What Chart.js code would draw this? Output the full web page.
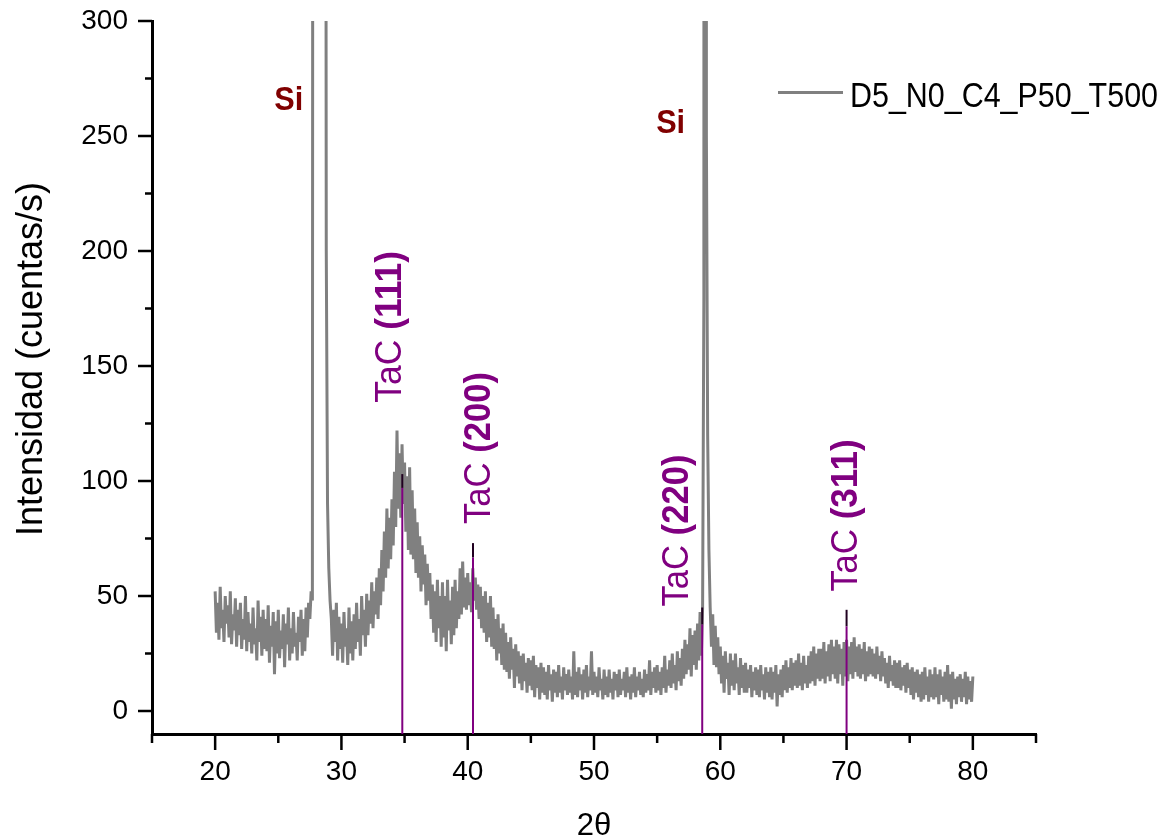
<!DOCTYPE html>
<html><head><meta charset="utf-8">
<script src="https://cdn.jsdelivr.net/npm/chart.js@4.4.1/dist/chart.umd.min.js"></script>
<style>html,body{margin:0;padding:0;background:#fff;}#c{display:block;}</style>
</head><body>
<canvas id="c" width="1173" height="840"></canvas>
<script>
// ---------- DATA ----------
const seriesLabel = 'D5_N0_C4_P50_T500';
const angleStart = 20.0;   // first 2θ sample
const angleStep = 0.1;     // 2θ sampling step
const counts = [
 52,34,47,31,54,36,44,30,50,38,
 46,32,52,29,42,35,49,28,44,33,
 47,27,40,31,50,26,43,30,38,25,
 45,29,36,22,48,30,41,24,44,27,
 40,26,46,21,37,28,43,16,39,25,
 44,23,35,27,42,19,38,29,45,22,
 36,25,43,28,34,22,41,30,44,24,
 40,26,45,32,47,40,52,48,1200,2500,
 4000,5200,5800,6000,5600,4200,2400,800,200,90,
 62,48,40,24,44,30,47,22,41,27,
 38,21,43,28,36,20,45,25,39,22,
 42,27,47,30,40,24,50,33,44,28,
 51,33,48,38,56,36,52,42,58,40,
 62,46,70,52,78,58,88,62,84,66,
 92,72,104,80,122,88,112,84,116,90,
 108,78,102,70,106,68,96,66,88,60,
 82,58,76,52,72,55,68,46,64,48,
 60,40,55,34,52,30,57,36,50,28,
 56,32,50,26,57,35,48,29,54,33,
 57,36,52,40,62,42,65,45,58,44,
 60,46,56,43,62,48,58,44,55,40,
 54,36,50,34,52,30,47,32,50,28,
 45,27,40,22,42,25,36,20,38,18,
 34,17,30,14,32,18,27,10,29,15,
 26,12,24,9,25,13,21,8,23,11,
 22,9,24,6,20,10,19,5,21,8,
 19,7,17,5,20,9,16,4,18,8,
 17,6,20,8,15,5,19,9,16,7,
 18,8,15,5,26,7,17,6,19,9,
 16,5,18,8,20,6,15,9,26,7,
 17,8,15,6,19,9,14,5,18,7,
 15,6,18,8,14,5,17,9,16,6,
 18,7,14,9,17,6,19,8,15,5,
 16,8,19,6,15,9,17,7,14,6,
 18,8,16,9,22,7,17,10,19,8,
 20,9,17,7,19,10,24,8,18,11,
 22,10,25,12,20,9,26,13,23,11,
 27,14,31,16,29,18,36,15,33,20,
 35,18,38,22,43,24,45,180,3600,250,
 120,70,45,28,42,20,37,19,32,16,
 28,12,24,8,26,14,21,7,25,11,
 22,9,25,12,19,7,23,10,20,8,
 21,8,18,10,20,6,17,9,19,7,
 18,6,20,9,16,5,19,8,17,6,
 19,5,17,8,20,2,16,7,18,6,
 20,9,22,8,19,10,23,9,21,11,
 22,10,25,11,21,9,24,12,20,10,
 24,12,26,13,28,11,25,14,27,13,
 27,14,30,12,26,15,29,13,31,16,
 28,14,31,12,29,16,27,11,30,15,
 31,13,28,16,30,14,32,17,28,15,
 29,14,27,16,30,13,26,15,28,16,
 27,15,25,14,28,16,24,13,26,15,
 23,12,21,10,24,13,20,11,22,10,
 21,10,22,9,19,11,20,8,21,10,
 18,7,19,5,17,8,18,6,16,4,
 17,5,19,7,15,4,18,6,16,5,
 19,6,16,3,18,7,15,4,17,5,
 20,4,16,1,17,5,14,3,15,6,
 16,4,14,6,17,3,15,5,13,4,
 15
];
const xMajorTicks = [20,30,40,50,60,70,80];
const xMinorTicks = [15,25,35,45,55,65,75,85];
const yMajorTicks = [0,50,100,150,200,250,300];
const yMinorTicks = [25,75,125,175,225,275];
// TaC reference sticks
const tacAngles   = [34.82, 40.42, 58.57, 70.0];
const tacTops     = [97, 66.7, 37.6, 36.8];
const tacTipTops  = [103, 73, 45, 44];
const tacHkl      = ['(111)','(200)','(220)','(311)'];
const tacLabelAngles = [34.72, 41.75, 57.46, 70.83];
const tacLabelValues = [134, 81.3, 45.4, 52];
// Si labels
const siLabelAngles = [24.68, 54.92];
const siLabelValues = [261.3, 251.3];

// ---------- CHART ----------
const FONT = "'Liberation Sans', Arial, sans-serif";
const points = counts.map((c,i)=>({x: Math.round((angleStart + i*angleStep)*100)/100, y: c}));
const datasets = [];
tacAngles.forEach((a,i)=>{
  datasets.push({label:'TaC'+tacHkl[i], data:[{x:a,y:-10},{x:a,y:tacTops[i]}], borderColor:'#800080', borderWidth:2, pointRadius:0, order:0});
  datasets.push({label:'tip'+i, data:[{x:a,y:tacTops[i]},{x:a,y:tacTipTops[i]}], borderColor:'#200020', borderWidth:2, pointRadius:0, order:0});
});
datasets.push({label: seriesLabel, data: points, borderColor:'#808080', borderWidth:3, pointRadius:0, tension:0, order:1});

function drawParts(ctx, parts, x, y, size, fitLen, rot, color){
  ctx.save();
  let total = 0;
  parts.forEach(p=>{ ctx.font = (p.b?'bold ':'') + size + 'px ' + FONT; p.w = ctx.measureText(p.t).width; total += p.w; });
  const s = fitLen ? fitLen/total : 1;
  ctx.translate(x,y);
  if (rot) ctx.rotate(rot);
  ctx.scale(s,1);
  ctx.fillStyle = color; ctx.textAlign='left'; ctx.textBaseline='alphabetic';
  let cx = 0;
  parts.forEach(p=>{ ctx.font = (p.b?'bold ':'') + size + 'px ' + FONT; ctx.fillText(p.t, cx, 0); cx += p.w; });
  ctx.restore();
}

const decor = {
  id:'decor',
  afterDraw(chart){
    const ctx = chart.ctx, xs = chart.scales.x, ys = chart.scales.y, ca = chart.chartArea;
    ctx.save();
    ctx.strokeStyle='#000'; ctx.lineWidth=2.5; ctx.lineCap='butt';
    const seg=(x1,y1,x2,y2)=>{ctx.beginPath();ctx.moveTo(x1,y1);ctx.lineTo(x2,y2);ctx.stroke();};
    xMajorTicks.forEach(v=>{const p=xs.getPixelForValue(v); seg(p,ca.bottom,p,ca.bottom+16);});
    xMinorTicks.forEach(v=>{const p=xs.getPixelForValue(v); seg(p,ca.bottom,p,ca.bottom+9);});
    yMajorTicks.forEach(v=>{const p=ys.getPixelForValue(v); seg(ca.left-14,p,ca.left,p);});
    yMinorTicks.forEach(v=>{const p=ys.getPixelForValue(v); seg(ca.left-7,p,ca.left,p);});
    ctx.restore();
    // TaC labels
    tacHkl.forEach((h,i)=>{
      drawParts(ctx,[{t:'TaC ',b:false},{t:h,b:true}], xs.getPixelForValue(tacLabelAngles[i]), ys.getPixelForValue(tacLabelValues[i]), 37, 152, -Math.PI/2, '#800080');
    });
    // Si labels
    siLabelAngles.forEach((a,i)=>{
      drawParts(ctx,[{t:'Si',b:true}], xs.getPixelForValue(a), ys.getPixelForValue(siLabelValues[i]), 34, 29, 0, '#800000');
    });
    // axis titles
    drawParts(ctx,[{t:'Intensidad (cuentas/s)',b:false}], 41.5, 536, 36, 354, -Math.PI/2, '#000');
    ctx.save(); ctx.font = '31px ' + FONT; ctx.fillStyle='#000'; ctx.textAlign='center'; ctx.textBaseline='alphabetic';
    ctx.fillText('2θ', 594, 835); ctx.restore();
    // legend
    ctx.save(); ctx.strokeStyle='#808080'; ctx.lineWidth=3;
    ctx.beginPath(); ctx.moveTo(778,92.5); ctx.lineTo(843,92.5); ctx.stroke(); ctx.restore();
    drawParts(ctx,[{t:seriesLabel,b:false}], 850, 106.5, 35, 308, 0, '#000');
  }
};

new Chart(document.getElementById('c'), {
  type:'line',
  data:{datasets},
  options:{
    responsive:false, animation:false, events:[],
    layout:{padding:{top:21,right:137,left:0,bottom:0}},
    plugins:{legend:{display:false}, tooltip:{enabled:false}, title:{display:false}},
    scales:{
      x:{type:'linear', min:15, max:85,
        afterBuildTicks:s=>{s.ticks = xMajorTicks.map(v=>({value:v}));},
        afterFit:s=>{s.height=106; s.paddingLeft=0; s.paddingRight=0;},
        grid:{display:true, drawOnChartArea:false, drawTicks:false},
        border:{display:true, color:'#000', width:3},
        ticks:{font:{family:FONT,size:28}, color:'#000', padding:21, maxRotation:0, autoSkip:false}
      },
      y:{type:'linear', min:-10, max:300,
        afterBuildTicks:s=>{s.ticks = yMajorTicks.map(v=>({value:v}));},
        afterFit:s=>{s.width=152; s.paddingTop=0; s.paddingBottom=0;},
        grid:{display:true, drawOnChartArea:false, drawTicks:false},
        border:{display:true, color:'#000', width:3},
        ticks:{font:{family:FONT,size:28}, color:'#000', padding:24, autoSkip:false}
      }
    }
  },
  plugins:[decor]
});
</script>
</body></html>
